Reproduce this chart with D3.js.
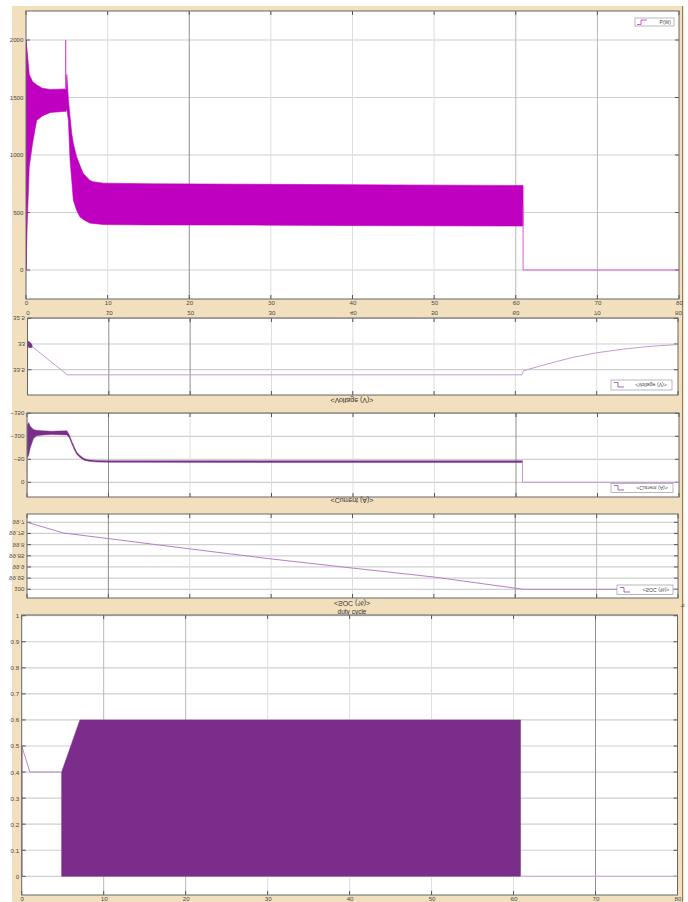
<!DOCTYPE html>
<html><head><meta charset="utf-8">
<script src="https://cdn.jsdelivr.net/npm/d3@7"></script>
<style>
body{margin:0;background:#fff}
svg{display:block}
text{font-family:"Liberation Sans",Arial,sans-serif;font-size:6.2px;fill:#4a4a4a}
</style>
</head><body>
<svg id="c" width="688" height="902"></svg>
<script>
// ---------------- DATA ----------------
const timeTicks = [0,10,20,30,40,50,60,70,80];
const powerTicks = [0,500,1000,1500,2000];
const voltTicks = [32.5,33,33.5];
const currTicks = [-150,-100,-50,0];
const socTicks = [99.7,99.75,99.8,99.85,99.9,99.95,100];
const dutyTicks = [0,0.1,0.2,0.3,0.4,0.5,0.6,0.7,0.8,0.9,1];

// Power P(W): envelope of fast oscillation
const powT  = [0,0.15,0.4,0.8,1.3,2,3,4.9,5.0,5.2,5.4,5.6,5.8,6.2,6.6,7.0,7.8,8.2,9.5,15,30,45,60.9];
const powUp = [2000,1900,1700,1640,1610,1580,1570,1575,1700,1480,1330,1190,1100,985,910,841,780,768,755,750,745,740,735];
const powLo = [0,400,900,1100,1300,1340,1370,1380,1400,1300,956,780,608,520,463,440,408,405,395,392,390,385,382];
const powSpikeT = [4.84,4.86,4.88];
const powSpikeV = [1570,2000,1570];
const powStartT = [0,0];
const powStartV = [0,2000];
const powTailT = [60.9,60.9,80];
const powTailV = [560,0,0];

// Voltage (V)
const voltT = [0,0.02,4.9,60.8,61.0,63.0,65.1,67.1,70.0,73.3,76.2,80];
const voltV = [33.99,32.98,33.60,33.60,33.52,33.43,33.34,33.26,33.17,33.10,33.05,33.01];
const voltBlobT = [0.02,0.3,0.6];
const voltBlobA = [32.93,32.96,33.02];
const voltBlobB = [33.06,33.08,33.07];

// Current (A)
const currT  = [0.02,0.2,0.4,0.8,1.2,2,3,4.9,5.2,5.5,5.8,6.1,6.5,7.0,7.5,8.5,10,30,60.8];
const currHi = [-125,-130,-122,-115,-113,-112,-111,-112,-103,-89,-77,-66,-58,-52,-49,-47.5,-47,-47,-47];
const currLo = [-53,-58,-75,-95,-101,-103,-104,-103,-97,-83,-71,-61,-54,-48,-46,-44,-43.5,-43,-43];
const currStartT = [0,0.02];
const currStartV = [30,-53];
const currTailT = [60.8,60.8,80];
const currTailV = [-45,0,0];

// SOC (%)
const socT = [0,4.5,10,20,30,40,50,61,80];
const socV = [99.70,99.748,99.773,99.819,99.864,99.905,99.945,100.0,100.0];

// duty cycle
const dutyLineT = [0,0,1.0,4.87];
const dutyLineV = [0,0.5,0.4,0.4];
const dutyFillT = [4.87,7.1,60.85];
const dutyFillTop = [0.4,0.6,0.6];
const dutyTailT = [60.85,80];
const dutyTailV = [0,0];

// ---------------- LAYOUT ----------------
const svg = d3.select('#c');
const TAN = '#f2dfbd';
svg.append('rect').attr('x',12).attr('y',6).attr('width',672).attr('height',896).attr('fill',TAN);
svg.append('line').attr('x1',682.5).attr('x2',682.5).attr('y1',6).attr('y2',902).attr('stroke','#8d7f68').attr('stroke-width',1);

const P = {
  p1:{l:26,r:679,t:11,b:299, xr:[26,679], yd:[0,2000], yr:[270,40], strong:[20], med:[60,70]},
  p2:{l:27.5,r:678,t:318,b:395, xr:[27.5,678], yd:[32.5,33.5], yr:[318.3,369.7], strong:[10,20], med:[]},
  p3:{l:27,r:679,t:413,b:497, xr:[27,679], yd:[-150,0], yr:[413.3,482.3], strong:[10,60], med:[]},
  p4:{l:27,r:678,t:514,b:598, xr:[27,678], yd:[99.7,100], yr:[522.3,589.3], strong:[10,60], med:[70]},
  p5:{l:21.7,r:677.5,t:615,b:895, xr:[21.7,677.5], yd:[0,1], yr:[876.3,615.7], strong:[70], med:[10,20]}
};

function flipText(sel){
  sel.attr('dy',null).attr('dominant-baseline','central').attr('transform','scale(1,-1)');
}
function cleanAxis(g){
  g.select('.domain').remove();
  g.attr('font-size',null).attr('font-family',null);
  g.selectAll('text').attr('fill',null);
}

function panel(key, yTicks, fmt, flipped){
  const p = P[key];
  const x = d3.scaleLinear().domain([0,80]).range(p.xr);
  const y = d3.scaleLinear().domain(p.yd).range(p.yr);
  const g = svg.append('g');
  g.append('rect').attr('x',p.l).attr('y',p.t).attr('width',p.r-p.l).attr('height',p.b-p.t).attr('fill','#fff');
  g.selectAll('.hg').data(yTicks).join('line')
    .attr('x1',p.l).attr('x2',p.r).attr('y1',d=>y(d)).attr('y2',d=>y(d))
    .attr('stroke','#cfcfcf').attr('stroke-width',1.2);
  g.selectAll('.vg').data(timeTicks.slice(1,-1)).join('line')
    .attr('x1',d=>x(d)).attr('x2',d=>x(d)).attr('y1',p.t).attr('y2',p.b)
    .attr('stroke',d=>p.strong.includes(d)?'#8f8f8f':(p.med.includes(d)?'#b8b8b8':'#dedede'))
    .attr('stroke-width',1);
  const tk = 4;
  yTicks.forEach(v=>{
    g.append('line').attr('x1',p.l).attr('x2',p.l+tk).attr('y1',y(v)).attr('y2',y(v)).attr('stroke','#555');
    g.append('line').attr('x1',p.r-tk).attr('x2',p.r).attr('y1',y(v)).attr('y2',y(v)).attr('stroke','#555');
  });
  timeTicks.forEach(v=>{
    g.append('line').attr('x1',x(v)).attr('x2',x(v)).attr('y1',p.t).attr('y2',p.t+tk).attr('stroke','#555');
    g.append('line').attr('x1',x(v)).attr('x2',x(v)).attr('y1',p.b-tk).attr('y2',p.b).attr('stroke','#555');
  });
  const ax = d3.axisLeft(y).tickValues(yTicks).tickSize(0).tickPadding(2).tickFormat(fmt);
  const ag = svg.append('g').attr('transform',`translate(${p.l-0.5},0)`).call(ax);
  cleanAxis(ag);
  if(flipped) flipText(ag.selectAll('text'));
  const cid = 'clip'+key;
  svg.append('clipPath').attr('id',cid).append('rect').attr('x',p.l).attr('y',p.t).attr('width',p.r-p.l).attr('height',p.b-p.t);
  const dg = svg.append('g').attr('clip-path',`url(#${cid})`);
  svg.append('rect').attr('x',p.l).attr('y',p.t).attr('width',p.r-p.l).attr('height',p.b-p.t)
    .attr('fill','none').attr('stroke','#666').attr('stroke-width',1);
  return {x,y,dg,p};
}

const zip = (a,b)=>a.map((v,i)=>[v,b[i]]);
const zip3 = (a,b,c)=>a.map((v,i)=>[v,b[i],c[i]]);

// ---------------- PANEL 1: Power ----------------
{
  const {x,y,dg} = panel('p1', powerTicks, d3.format('d'), false);
  const MAG = '#c000c0';
  dg.append('path').datum(zip3(powT,powUp,powLo))
    .attr('d', d3.area().x(d=>x(d[0])).y0(d=>y(d[2])).y1(d=>y(d[1])))
    .attr('fill',MAG).attr('stroke',MAG).attr('stroke-width',0.6);
  const ln = d3.line().x(d=>x(d[0])).y(d=>y(d[1]));
  dg.append('path').datum(zip(powSpikeT,powSpikeV)).attr('d',ln).attr('fill','none').attr('stroke','#d35ad3').attr('stroke-width',1);
  dg.append('path').datum(zip(powStartT,powStartV)).attr('d',ln).attr('fill','none').attr('stroke','#c000c0').attr('stroke-width',1.2);
  dg.append('path').datum(zip(powTailT,powTailV)).attr('d',ln).attr('fill','none').attr('stroke','#d55ad5').attr('stroke-width',1);
  const xa = d3.axisBottom(x).tickValues(timeTicks).tickSize(0).tickPadding(2).tickFormat(d3.format('d'));
  const xg = svg.append('g').attr('transform','translate(0,299)').call(xa);
  cleanAxis(xg);
  svg.append('rect').attr('x',635).attr('y',18).attr('width',39).attr('height',8).attr('fill','#fff').attr('stroke','#9a9a9a').attr('stroke-width',0.7);
  svg.append('path').attr('d','M637,24.5H641V20H647').attr('fill','none').attr('stroke','#d040d0').attr('stroke-width',0.9);
  svg.append('text').attr('x',671).attr('y',22).attr('text-anchor','end').attr('dominant-baseline','central').style('font-size','5px').text('P(W)');
}

// ---------------- PANEL 2: Voltage ----------------
{
  const {x,y,dg} = panel('p2', voltTicks, d3.format('~g'), true);
  const ln = d3.line().x(d=>x(d[0])).y(d=>y(d[1]));
  dg.append('path').datum(zip(voltT,voltV)).attr('d',ln).attr('fill','none').attr('stroke','#c39ad3').attr('stroke-width',1);
  dg.append('path').datum(zip3(voltBlobT,voltBlobA,voltBlobB))
    .attr('d', d3.area().x(d=>x(d[0])).y0(d=>y(d[2])).y1(d=>y(d[1])))
    .attr('fill','#7b2d8b');
  // flipped x labels row (between panel 1 and panel 2)
  const xa = d3.axisTop(x).tickValues(timeTicks).tickSize(0).tickPadding(0).tickFormat(d3.format('d'));
  const xg = svg.append('g').attr('transform','translate(0,313)').call(xa);
  cleanAxis(xg);
  flipText(xg.selectAll('text'));
  xg.selectAll('text').attr('y',0);
  svg.append('rect').attr('x',611).attr('y',380).attr('width',61).attr('height',10).attr('fill','#fff').attr('stroke','#9a9a9a').attr('stroke-width',0.7);
  svg.append('path').attr('d','M614,382.5H618V387H624').attr('fill','none').attr('stroke','#9b5aab').attr('stroke-width',0.9);
  svg.append('text').attr('transform','translate(651,385) scale(1,-1)').attr('text-anchor','middle').attr('dominant-baseline','central').style('font-size','5.2px').text('<Voltage (V)>');
  svg.append('text').attr('transform','translate(352,400.5) scale(1,-1)').attr('text-anchor','middle').attr('dominant-baseline','central').style('font-size','7px').style('fill','#333').text('<Voltage (V)>');
}

// ---------------- PANEL 3: Current ----------------
{
  const {x,y,dg} = panel('p3', currTicks, d3.format('d'), true);
  const ln = d3.line().x(d=>x(d[0])).y(d=>y(d[1]));
  dg.append('path').datum(zip3(currT,currHi,currLo))
    .attr('d', d3.area().x(d=>x(d[0])).y0(d=>y(d[2])).y1(d=>y(d[1])))
    .attr('fill','#7b2d8b').attr('stroke','#7b2d8b').attr('stroke-width',0.4);
  dg.append('path').datum(zip(currStartT,currStartV)).attr('d',ln).attr('fill','none').attr('stroke','#c79bd6').attr('stroke-width',1);
  dg.append('path').datum(zip(currTailT,currTailV)).attr('d',ln).attr('fill','none').attr('stroke','#c497d6').attr('stroke-width',1);
  svg.append('rect').attr('x',611).attr('y',483.5).attr('width',62).attr('height',9).attr('fill','#fff').attr('stroke','#9a9a9a').attr('stroke-width',0.7);
  svg.append('path').attr('d','M614,485.5H618V490H624').attr('fill','none').attr('stroke','#9b5aab').attr('stroke-width',0.9);
  svg.append('text').attr('transform','translate(652,488) scale(1,-1)').attr('text-anchor','middle').attr('dominant-baseline','central').style('font-size','5.2px').text('<Current (A)>');
  svg.append('text').attr('transform','translate(352,500.5) scale(1,-1)').attr('text-anchor','middle').attr('dominant-baseline','central').style('font-size','7px').style('fill','#333').text('<Current (A)>');
}

// ---------------- PANEL 4: SOC ----------------
{
  const {x,y,dg} = panel('p4', socTicks, d3.format('~g'), true);
  const ln = d3.line().x(d=>x(d[0])).y(d=>y(d[1]));
  dg.append('path').datum(zip(socT,socV)).attr('d',ln).attr('fill','none').attr('stroke','#b57fc8').attr('stroke-width',1);
  svg.append('rect').attr('x',617).attr('y',585).attr('width',56).attr('height',9.5).attr('fill','#fff').attr('stroke','#9a9a9a').attr('stroke-width',0.7);
  svg.append('path').attr('d','M620,587.5H624V592H630').attr('fill','none').attr('stroke','#9b5aab').attr('stroke-width',0.9);
  svg.append('text').attr('transform','translate(656,589.7) scale(1,-1)').attr('text-anchor','middle').attr('dominant-baseline','central').style('font-size','5.2px').text('<SOC (%)>');
  svg.append('text').attr('transform','translate(352,603) scale(1,-1)').attr('text-anchor','middle').attr('dominant-baseline','central').style('font-size','7px').style('fill','#333').text('<SOC (%)>');
}

// ---------------- PANEL 5: duty cycle ----------------
{
  svg.append('text').attr('x',352).attr('y',611).attr('text-anchor','middle').attr('dominant-baseline','central').style('font-size','6.5px').style('fill','#333').text('duty cycle');
  const {x,y,dg} = panel('p5', dutyTicks, d3.format('~g'), false);
  const ln = d3.line().x(d=>x(d[0])).y(d=>y(d[1]));
  dg.append('path').datum(zip(dutyFillT,dutyFillTop))
    .attr('d', d3.area().x(d=>x(d[0])).y0(y(0)).y1(d=>y(d[1])))
    .attr('fill','#7b2d8b').attr('stroke','#7b2d8b').attr('stroke-width',0.5);
  dg.append('path').datum(zip(dutyLineT,dutyLineV)).attr('d',ln).attr('fill','none').attr('stroke','#b889c8').attr('stroke-width',1);
  dg.append('line').attr('x1',x(0)).attr('x2',x(0)).attr('y1',y(0)).attr('y2',y(0.5)).attr('stroke','#7b2d8b').attr('stroke-width',1.2);
  dg.append('path').datum(zip(dutyTailT,dutyTailV)).attr('d',ln).attr('fill','none').attr('stroke','#d3a9e0').attr('stroke-width',1);
  const xa = d3.axisBottom(x).tickValues(timeTicks).tickSize(0).tickPadding(2).tickFormat(d3.format('d'));
  const xg = svg.append('g').attr('transform','translate(0,895)').call(xa);
  cleanAxis(xg);
  svg.append('text').attr('x',685).attr('y',607).attr('text-anchor','end').style('font-size','6px').style('fill','#555').text('⊿');
}
</script>
</body></html>
